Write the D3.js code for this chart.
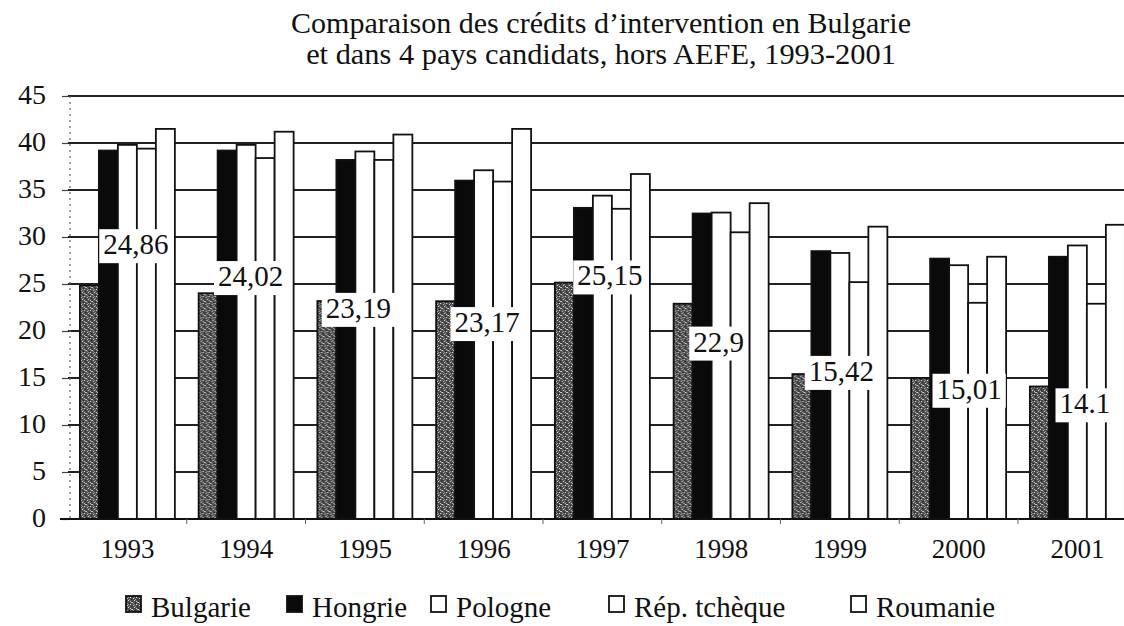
<!DOCTYPE html>
<html lang="fr">
<head>
<meta charset="utf-8">
<script src="https://cdn.jsdelivr.net/npm/d3@7"></script>
<style>
  html, body { margin: 0; padding: 0; background: #fff; }
  svg { display: block; }
</style>
</head>
<body>
<svg id="chart" width="1124" height="626"></svg>
<script>
// Crédits d'intervention, Bulgarie et 4 pays candidats (hors AEFE)
const years = ["1993", "1994", "1995", "1996", "1997", "1998", "1999", "2000", "2001"];
const seriesNames = ["Bulgarie", "Hongrie", "Pologne", "Rép. tchèque", "Roumanie"];

const bulgarie   = [24.86, 24.02, 23.19, 23.17, 25.15, 22.9, 15.42, 15.01, 14.1];
const hongrie    = [39.2, 39.2, 38.2, 36.0, 33.1, 32.5, 28.5, 27.7, 27.9];
const pologne    = [39.8, 39.8, 39.1, 37.1, 34.4, 32.6, 28.3, 27.0, 29.1];
const repTcheque = [39.4, 38.4, 38.2, 35.9, 33.0, 30.5, 25.2, 23.0, 22.9];
const roumanie   = [41.5, 41.2, 40.9, 41.5, 36.7, 33.6, 31.1, 27.9, 31.3];

const bulgarieLabels = ["24,86", "24,02", "23,19", "23,17", "25,15", "22,9", "15,42", "15,01", "14.1"];
const yTicks = [0, 5, 10, 15, 20, 25, 30, 35, 40, 45];
const titleLines = [
  "Comparaison des crédits d\u2019intervention en Bulgarie",
  "et dans 4 pays candidats, hors AEFE, 1993-2001"
];

const seriesValues = [bulgarie, hongrie, pologne, repTcheque, roumanie];
const rows = years.map((y, i) => ({
  year: y,
  values: seriesNames.map((s, k) => ({ series: s, value: seriesValues[k][i] }))
}));

// pick the first serif face that is actually installed
function pickSerif() {
  const candidates = ["Liberation Serif", "DejaVu Serif", "Noto Serif", "Tinos", "Times New Roman",
    "Nimbus Roman", "FreeSerif", "Noto Serif CJK SC", "Noto Serif CJK JP", "Source Serif Pro", "Georgia"];
  const ctx = document.createElement("canvas").getContext("2d");
  const probe = "Comparaison crédits 1993 Wgmi";
  const widthOf = f => { ctx.font = "40px " + f; return ctx.measureText(probe).width; };
  const base1 = widthOf("monospace"), base2 = widthOf("cursive");
  for (const c of candidates) {
    const w1 = widthOf(`"${c}", monospace`), w2 = widthOf(`"${c}", cursive`);
    if (w1 !== base1 || w2 !== base2) return `"${c}", serif`;
  }
  return "serif";
}
const SERIF = pickSerif();

// ---- layout ----
const svg = d3.select("#chart").style("font-family", SERIF);
const plot = { left: 68, top: 96, bottom: 519, step: 118.75 };

const x0 = d3.scaleBand()
  .domain(years)
  .range([plot.left, plot.left + plot.step * years.length])
  .paddingInner(0.2)
  .paddingOuter(0.1);

const x1 = d3.scaleBand()
  .domain(seriesNames)
  .range([0, x0.bandwidth()]);

const y = d3.scaleLinear().domain([0, 45]).range([plot.bottom, plot.top]);

// stippled grey fill for Bulgaria
const defs = svg.append("defs");
const pat = defs.append("pattern")
  .attr("id", "stipple")
  .attr("patternUnits", "userSpaceOnUse")
  .attr("width", 6).attr("height", 7);
pat.append("rect").attr("width", 6).attr("height", 7).attr("fill", "#4a4a4a");
[[0,0,"#e0e0e0"],[3,1,"#1a1a1a"],[4,2,"#f0f0f0"],[1,3,"#c8c8c8"],[5,4,"#222"],
 [2,5,"#e4e4e4"],[0,6,"#2a2a2a"],[4,6,"#d0d0d0"],[2,2,"#9a9a9a"],[5,0,"#b8b8b8"],
 [1,1,"#888"],[3,4,"#a0a0a0"]]
  .forEach(([px, py, c]) => pat.append("rect")
    .attr("x", px).attr("y", py).attr("width", 1).attr("height", 1).attr("fill", c));

const fills = {
  "Bulgarie": "url(#stipple)",
  "Hongrie": "#0a0a0a",
  "Pologne": "#fff",
  "Rép. tchèque": "#fff",
  "Roumanie": "#fff"
};

// scale a text's font size so it spans the given width
function fitWidth(node, width) {
  const fs = parseFloat(node.style.fontSize);
  const w = node.getComputedTextLength();
  if (w > 0) node.style.fontSize = (fs * width / w).toFixed(2) + "px";
}

// ---- title ----
const titleWidths = [620, 590];
svg.append("g").selectAll("text")
  .data(titleLines)
  .join("text")
  .attr("x", 601)
  .attr("y", (d, i) => 33 + i * 31)
  .attr("text-anchor", "middle")
  .attr("fill", "#111")
  .style("font-family", SERIF)
  .style("font-size", "25px")
  .text(d => d)
  .each(function(d, i) { fitWidth(this, titleWidths[i]); });

// ---- grid ----
svg.append("g").selectAll("line")
  .data(yTicks.filter(t => t > 0))
  .join("line")
  .attr("x1", plot.left).attr("x2", 1124)
  .attr("y1", d => y(d)).attr("y2", d => y(d))
  .attr("stroke", "#222").attr("stroke-width", 1.8);

// dotted left axis
svg.append("line")
  .attr("x1", plot.left + 2).attr("x2", plot.left + 2)
  .attr("y1", y(45)).attr("y2", y(0))
  .attr("stroke", "#666").attr("stroke-width", 1.2)
  .attr("stroke-dasharray", "2,4");

// y axis labels with short ticks
const yAxis = d3.axisLeft(y).tickValues(yTicks).tickSize(6).tickPadding(16).tickFormat(d3.format("d"));
const gy = svg.append("g").attr("transform", `translate(${plot.left},0)`).call(yAxis)
  .attr("font-family", SERIF);
gy.select(".domain").remove();
gy.selectAll(".tick line").attr("stroke", "#444").attr("stroke-width", 1.2);
gy.selectAll(".tick text")
  .style("font-size", "28px")
  .style("font-family", SERIF)
  .attr("fill", "#111")
  .attr("dy", "0.28em");

// ---- bars ----
const groups = svg.append("g").selectAll("g")
  .data(rows)
  .join("g")
  .attr("transform", d => `translate(${x0(d.year)},0)`);

groups.selectAll("rect")
  .data(d => d.values)
  .join("rect")
  .attr("x", d => x1(d.series))
  .attr("width", x1.bandwidth())
  .attr("y", d => y(d.value))
  .attr("height", d => y(0) - y(d.value))
  .attr("fill", d => fills[d.series])
  .attr("stroke", "#111")
  .attr("stroke-width", 1.8);

// ---- x axis ----
svg.append("line")
  .attr("x1", 60).attr("x2", 1124)
  .attr("y1", y(0)).attr("y2", y(0))
  .attr("stroke", "#111").attr("stroke-width", 2.2);

const xAxis = d3.axisBottom(x0).tickSize(0).tickPadding(20);
const gx = svg.append("g").attr("transform", `translate(0,${y(0)})`).call(xAxis)
  .attr("font-family", SERIF);
gx.select(".domain").remove();
gx.selectAll(".tick text")
  .style("font-size", "27px")
  .style("font-family", SERIF)
  .attr("fill", "#111");

// small ticks between year groups
svg.append("g").selectAll("line")
  .data(years.slice(1))
  .join("line")
  .attr("x1", d => x0(d) - x0.step() * 0.1).attr("x2", d => x0(d) - x0.step() * 0.1)
  .attr("y1", y(0)).attr("y2", y(0) + 5)
  .attr("stroke", "#666").attr("stroke-width", 1);

// ---- Bulgaria value labels (hand-placed offsets from each bar top) ----
const labelNudge = [[56, -41], [52, -17], [41, 7], [51, 21], [55, -7], [45, 38], [49, -3], [58, 11], [55, 17]];
const lab = svg.append("g").selectAll("g")
  .data(years.map((yr, i) => ({ year: yr, value: bulgarie[i], text: bulgarieLabels[i], nudge: labelNudge[i] })))
  .join("g")
  .attr("transform", d => `translate(${x0(d.year) + d.nudge[0]},${y(d.value) + d.nudge[1]})`);

lab.append("text")
  .attr("text-anchor", "middle")
  .attr("dy", "0.34em")
  .attr("fill", "#111")
  .style("font-family", SERIF)
  .style("font-size", "29px")
  .text(d => d.text);

lab.each(function() {
  const g = d3.select(this);
  const bb = g.select("text").node().getBBox();
  g.insert("rect", "text")
    .attr("x", bb.x - 4).attr("y", bb.y + 1)
    .attr("width", bb.width + 8).attr("height", bb.height + 2)
    .attr("fill", "#fff");
});

// ---- legend ----
const legendX = [126, 287, 431, 609, 851];
const legend = svg.append("g").selectAll("g")
  .data(seriesNames)
  .join("g")
  .attr("transform", (d, i) => `translate(${legendX[i]},0)`);

legend.append("rect")
  .attr("x", 0).attr("y", 596)
  .attr("width", 15).attr("height", 16)
  .attr("fill", d => fills[d])
  .attr("stroke", "#111").attr("stroke-width", 1.8);

legend.append("text")
  .attr("x", 25).attr("y", 617)
  .attr("fill", "#111")
  .style("font-family", SERIF)
  .style("font-size", "29px")
  .text(d => d);
</script>
</body>
</html>
